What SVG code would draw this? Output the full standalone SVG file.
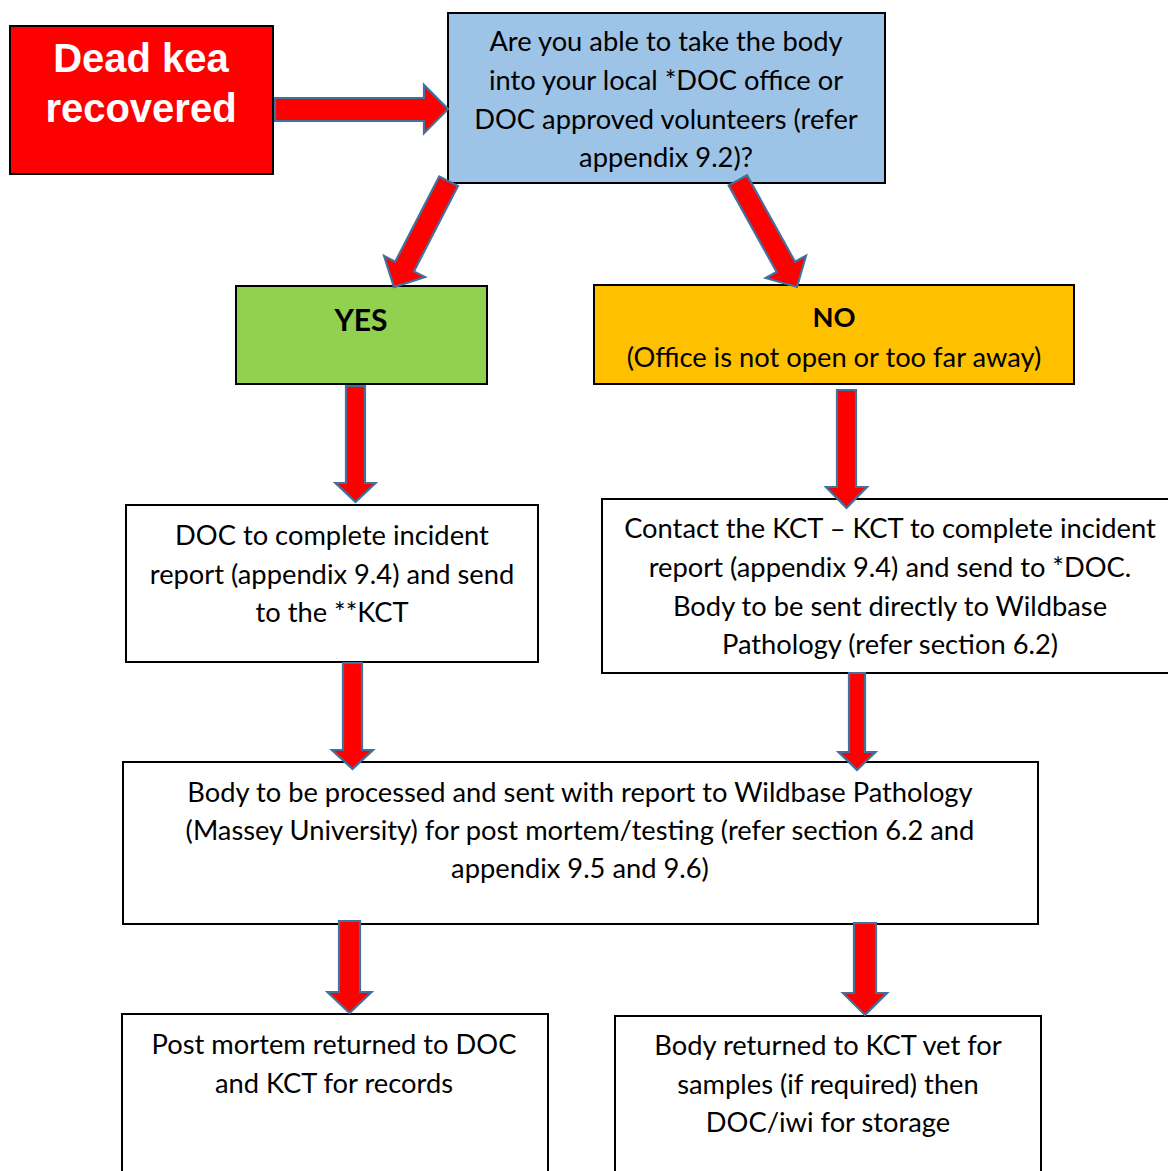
<svg xmlns="http://www.w3.org/2000/svg" width="1168" height="1171" viewBox="0 0 1168 1171">
<style>
.box{stroke:#000;stroke-width:2}
.t{font-family:Lato,"Open Sans","Liberation Sans",sans-serif;font-size:27.3px;fill:#000;text-anchor:middle}
.b{font-weight:bold}
.big{font-family:"Liberation Sans",Arial,sans-serif;font-size:40px;font-weight:bold;fill:#fff;text-anchor:middle}
.arr{fill:#ff0000;stroke:#41719c;stroke-width:2.2;stroke-linejoin:miter}
</style>
<rect width="1168" height="1171" fill="#fff"/>
<g id="dead-kea">
<rect class="box" x="10" y="26" width="263" height="148" fill="#ff0000"/>
<text class="big" x="141" y="72">Dead kea</text>
<text class="big" x="141" y="122">recovered</text>
</g>
<g id="question">
<rect class="box" x="448" y="13" width="437" height="170" fill="#9dc3e6"/>
<text class="t" x="666" y="51">Are you able to take the body</text>
<text class="t" x="666" y="90">into your local *DOC office or</text>
<text class="t" x="666" y="129">DOC approved volunteers (refer</text>
<text class="t" x="666" y="167">appendix 9.2)?</text>
</g>
<g id="yes">
<rect class="box" x="236" y="286" width="251" height="98" fill="#92d050"/>
<text class="t b" x="361" y="331" style="font-size:30px">YES</text>
</g>
<g id="no">
<rect class="box" x="594" y="285" width="480" height="99" fill="#ffc000"/>
<text class="t b" x="834" y="327">NO</text>
<text class="t" x="834" y="367">(Office is not open or too far away)</text>
</g>
<g id="doc-report">
<rect class="box" x="126" y="505" width="412" height="157" fill="#fff"/>
<text class="t" x="332" y="545">DOC to complete incident</text>
<text class="t" x="332" y="584">report (appendix 9.4) and send</text>
<text class="t" x="332" y="622">to the **KCT</text>
</g>
<g id="kct-contact">
<rect class="box" x="602" y="499" width="580" height="174" fill="#fff"/>
<text class="t" x="890" y="538">Contact the KCT – KCT to complete incident</text>
<text class="t" x="890" y="577">report (appendix 9.4) and send to *DOC.</text>
<text class="t" x="890" y="616">Body to be sent directly to Wildbase</text>
<text class="t" x="890" y="654">Pathology (refer section 6.2)</text>
</g>
<g id="processing">
<rect class="box" x="123" y="762" width="915" height="162" fill="#fff"/>
<text class="t" x="580" y="802">Body to be processed and sent with report to Wildbase Pathology</text>
<text class="t" x="580" y="840">(Massey University) for post mortem/testing (refer section 6.2 and</text>
<text class="t" x="580" y="878">appendix 9.5 and 9.6)</text>
</g>
<g id="post-mortem">
<rect class="box" x="122" y="1014" width="426" height="180" fill="#fff"/>
<text class="t" x="334" y="1054">Post mortem returned to DOC</text>
<text class="t" x="334" y="1093">and KCT for records</text>
</g>
<g id="body-returned">
<rect class="box" x="615" y="1016" width="426" height="180" fill="#fff"/>
<text class="t" x="828" y="1055">Body returned to KCT vet for</text>
<text class="t" x="828" y="1094">samples (if required) then</text>
<text class="t" x="828" y="1132">DOC/iwi for storage</text>
</g>
<g id="connectors">
<polygon class="arr" points="275,98 424,98 424,85 448,109 424,133 424,121 275,121"/>
<polygon class="arr" transform="translate(394,287) rotate(27.3)" points="-10.5,-119 10.5,-119 10.5,-23 23,-23 0,0 -23,-23 -10.5,-23"/>
<polygon class="arr" transform="translate(797,287) rotate(-29)" points="-10.5,-122 10.5,-122 10.5,-23 23,-23 0,0 -23,-23 -10.5,-23"/>
<polygon class="arr" points="346,386 365,386 365,483 375.5,483 355.5,502 335.5,483 346,483"/>
<polygon class="arr" points="837,390 856,390 856,487 867,487 846.5,508 826,487 837,487"/>
<polygon class="arr" points="343,663 362,663 362,750 373,750 352.5,769 332,750 343,750"/>
<polygon class="arr" points="849,673 865,673 865,752 875.5,752 857,770 838.5,752 849,752"/>
<polygon class="arr" points="339,921 360,921 360,992 371.5,992 349.5,1013 327.5,992 339,992"/>
<polygon class="arr" points="854,923 876,923 876,993 887,993 865,1015 843,993 854,993"/>
</g>
</svg>
